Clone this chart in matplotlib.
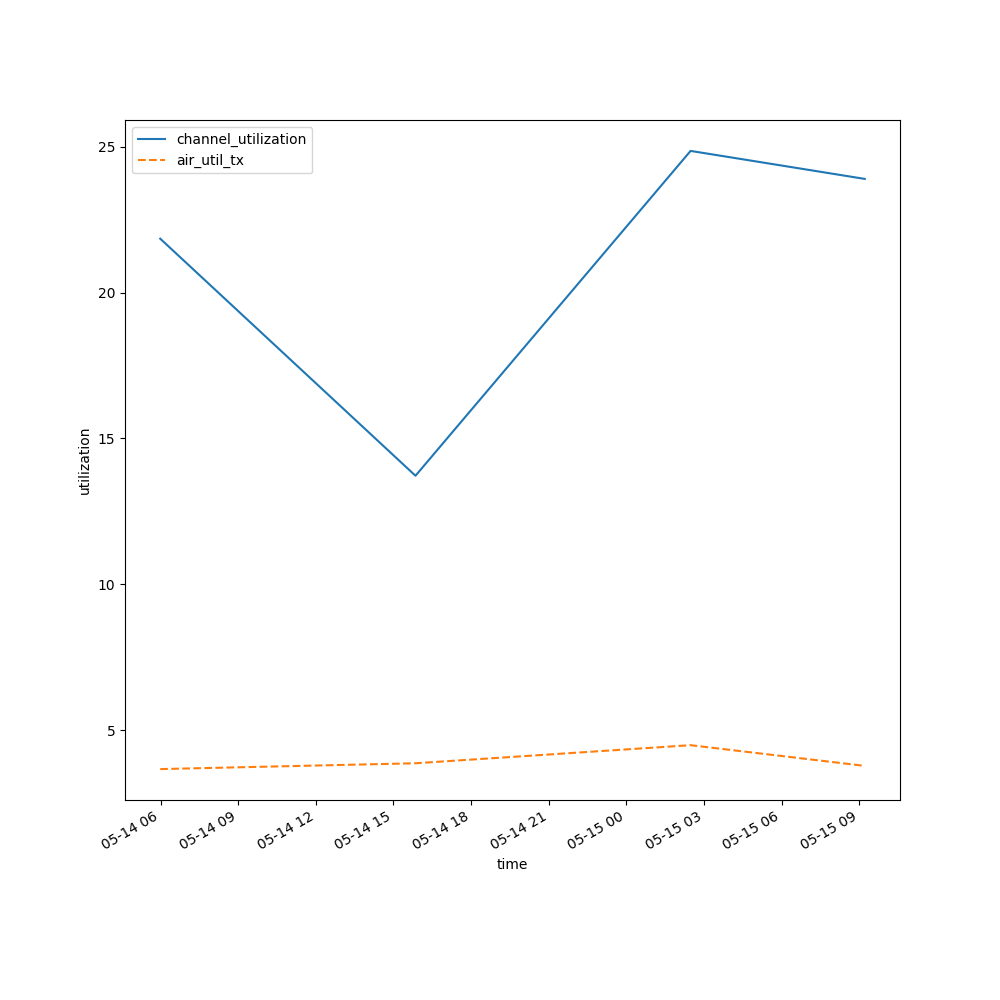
import pandas as pd
import matplotlib
matplotlib.use("Agg")
import matplotlib.pyplot as plt
import matplotlib.dates as mdates

# readings taken from the chart
times = pd.to_datetime(["2024-05-14 05:59", "2024-05-14 15:51",
                        "2024-05-15 02:29", "2024-05-15 09:13"])
channel_utilization = [21.85, 13.72, 24.86, 23.90]
air_util_tx = [3.66, 3.86, 4.48, 3.77]

fig, ax = plt.subplots(figsize=(10, 10), dpi=100)
ax.plot(times, channel_utilization, color='#1f77b4', label='channel_utilization')
ax.plot(times, air_util_tx, color='#ff7f0e', linestyle='--', label='air_util_tx')

ax.xaxis.set_major_locator(mdates.HourLocator(byhour=range(0, 24, 3)))
ax.xaxis.set_major_formatter(mdates.DateFormatter('%m-%d %H'))
ax.set_xlabel('time')
ax.set_ylabel('utilization')
ax.legend(loc='upper left')
fig.autofmt_xdate()

fig.savefig('out.png')
